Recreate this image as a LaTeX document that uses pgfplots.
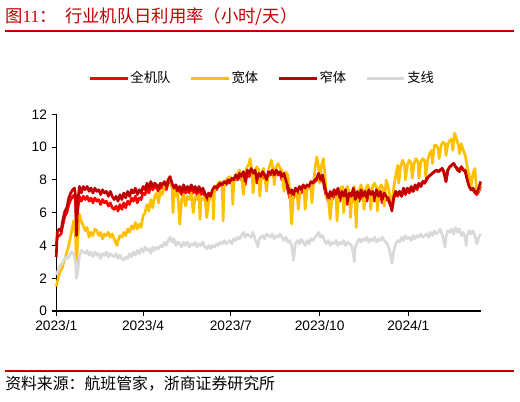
\documentclass[border=0pt]{standalone}
\usepackage{fontspec}
\setmainfont{Liberation Sans}
\newfontfamily\cjk{Noto Sans CJK SC}
\newfontfamily\serif{Liberation Serif}
\usepackage{pgfplots}
\pgfplotsset{compat=1.18}
\definecolor{cA}{RGB}{255,0,0}
\definecolor{cW}{RGB}{255,192,0}
\definecolor{cN}{RGB}{192,0,0}
\definecolor{cG}{RGB}{217,217,217}
\definecolor{tred}{RGB}{192,0,0}
\begin{document}
\begin{tikzpicture}
\path[use as bounding box] (0pt,0pt) rectangle (390pt,301.5pt);
% title
\node[anchor=west, inner sep=0pt, text=tred, font=\fontsize{13}{15}\selectfont] at (3.75pt,288.75pt)
  {{\cjk 图}{\serif 11}{\cjk ：}\hspace{6.5pt}{\cjk 行业机队日利用率（小时/天）}};
\draw[tred, line width=0.8pt] (3.75pt,278.25pt) -- (385.5pt,278.25pt);
\draw[tred, line width=0.8pt] (3.75pt,23.25pt) -- (385.5pt,23.25pt);
\node[anchor=west, inner sep=0pt, font=\fontsize{11.9}{14}\selectfont\cjk] at (3.75pt,13.5pt)
  {资料来源：航班管家，浙商证券研究所};
\begin{axis}[
  at={(42.2pt,68.25pt)}, anchor=south west,
  scale only axis, width=318.3pt, height=147.5pt,
  xmin=0, xmax=440, ymin=0, ymax=12,
  axis lines=left,
  axis line style={-, black, line width=0.8pt},
  tick align=outside, major tick length=3.4pt,
  tick style={black, line width=0.8pt},
  ytick={0,2,4,6,8,10,12},
  xtick={0,90,181,273,365},
  xticklabels={2023/1,2023/4,2023/7,2023/10,2024/1},
  ticklabel style={font=\fontsize{10.3}{12}\selectfont},
  /pgf/number format/assume math mode=true,
  clip=false,
  legend columns=4,
  legend style={draw=none, fill=none, at={(axis description cs:0.4847,1.184)}, anchor=center,
    font=\fontsize{10}{12}\selectfont\cjk,
    /tikz/every even column/.append style={column sep=13.5pt},
    nodes={inner sep=1pt}},
  legend image code/.code={\draw[#1, line width=2.4pt] (0pt,0pt) -- (28pt,0pt);},
  every axis plot/.append style={line width=2pt, line join=round},
]
\addplot[cA] coordinates {
(0,4.0)(1,4.5)(3,4.6)(5,4.7)(7,5.3)(9,5.8)(11,6.0)(13,6.5)(15,6.8)(17,7.0)(19,7.1)(20,6.6)(21,4.4)(22,6.0)(24,7.0)(26,6.7)(28,7.0)(30,6.8)(32,7.0)(34,6.7)(36,6.9)(38,6.6)(40,6.9)(42,6.7)(44,6.8)(46,6.5)(48,6.8)(50,6.6)(52,6.7)(54,6.4)(56,6.6)(58,6.3)(60,6.2)(62,6.4)(64,6.1)(66,6.5)(68,6.2)(70,6.6)(72,6.3)(74,6.7)(76,6.5)(78,6.9)(80,6.7)(82,7.0)(84,6.6)(86,6.9)(88,6.8)(90,7.2)(92,7.1)(94,7.5)(96,7.2)(98,7.6)(100,7.4)
(102,7.6)(104,7.5)(106,7.3)(108,7.6)(110,7.5)(112,7.7)(114,7.4)(116,7.8)(118,8.0)(120,7.6)(122,7.3)(124,7.5)(126,7.2)(128,7.4)(130,7.1)(132,7.5)(134,7.2)(136,7.4)(138,7.2)(140,7.5)(142,7.2)(144,7.4)(146,7.1)(148,7.4)(150,7.1)(152,7.3)(154,7.0)(156,6.7)(158,7.0)(160,6.9)(162,7.3)(164,7.5)(166,7.4)(168,7.6)(170,7.7)(172,7.6)(174,7.8)(176,7.7)(178,7.9)(180,7.8)(182,8.0)(184,7.9)(186,8.2)(188,8.0)(190,8.3)(192,8.0)(194,8.3)(196,7.7)(198,8.5)(200,8.2)
(202,8.5)(204,8.2)(206,8.4)(208,7.8)(210,8.2)(212,8.0)(214,8.3)(216,8.1)(218,7.8)(220,8.3)(222,8.3)(224,8.5)(226,8.1)(228,8.5)(230,8.3)(232,8.4)(234,8.0)(236,8.2)(238,7.8)(240,7.4)(242,6.9)(244,7.2)(246,6.9)(248,7.3)(250,7.1)(252,7.4)(254,7.2)(256,7.5)(258,7.3)(260,7.6)(262,7.5)(264,7.8)(266,7.7)(268,7.9)(270,8.0)(272,8.3)(274,7.9)(276,8.2)(278,7.5)(280,7.0)(282,6.7)(284,7.1)(286,6.8)(288,7.2)(290,6.9)(292,7.3)(294,6.7)(296,7.1)(298,6.8)(300,7.2)
(302,6.5)(304,7.0)(306,6.8)(308,7.3)(310,6.6)(312,7.1)(314,6.7)(316,7.2)(318,6.8)(320,7.1)(322,6.7)(324,7.2)(326,6.9)(328,7.1)(330,6.7)(332,7.2)(334,6.8)(336,7.1)(338,6.6)(340,7.0)(342,6.8)(344,6.8)(346,6.5)(348,6.3)(350,6.9)(352,7.2)(354,7.0)(356,7.3)(358,7.0)(360,7.4)(362,7.1)(364,7.4)(366,7.2)(368,7.5)(370,7.3)(372,7.6)(374,7.4)(376,7.7)(378,7.6)(380,7.9)(382,7.8)(384,8.0)(386,8.2)(388,8.3)(390,8.4)(392,8.5)(394,8.6)(396,8.5)(398,8.6)(400,8.7)
(402,8.4)(404,7.9)(406,8.6)(408,8.8)(410,8.9)(412,9.0)(414,8.8)(416,8.7)(418,8.6)(420,8.8)(422,8.6)(424,8.6)(426,8.1)(428,7.7)(430,7.4)(432,7.4)(434,7.2)(436,7.1)(438,7.3)(440,7.6)
};
\addlegendentry{全机队}
\addplot[cW] coordinates {
(0,1.5)(2,2.0)(4,2.4)(6,2.6)(8,3.0)(10,3.4)(12,3.8)(14,4.3)(16,4.9)(18,5.5)(20,4.5)(21,2.7)(22,4.0)(24,5.9)(26,5.5)(28,5.2)(30,4.9)(32,5.1)(34,4.5)(36,4.8)(38,4.6)(40,5.0)(42,4.9)(44,4.6)(46,4.8)(48,4.4)(50,4.7)(52,4.6)(54,4.8)(56,4.5)(58,4.7)(60,4.4)(62,4.1)(63,4.0)(64,4.3)(66,4.6)(68,4.5)(70,4.8)(72,4.6)(74,5.0)(76,4.8)(78,5.2)(80,5.0)(82,5.4)(84,5.0)(86,5.3)(88,5.1)(90,5.8)(92,6.0)(94,6.5)(96,6.1)(98,6.8)(100,6.3)
(102,7.0)(104,7.2)(106,6.6)(108,7.3)(110,7.1)(112,7.6)(114,7.8)(116,8.0)(118,8.2)(120,7.6)(121,6.0)(122,7.4)(124,7.0)(126,7.2)(128,5.3)(130,6.8)(132,7.1)(134,6.4)(136,7.0)(138,6.8)(140,7.2)(142,6.0)(144,7.0)(146,6.8)(148,7.1)(149,5.6)(150,6.9)(152,6.8)(154,7.0)(156,5.7)(158,6.6)(160,7.1)(162,7.4)(163,5.6)(164,7.3)(166,7.6)(168,7.8)(170,7.9)(172,7.7)(173,5.5)(174,7.6)(176,8.0)(178,8.1)(180,8.2)(182,7.9)(183,6.5)(184,7.8)(186,8.3)(188,8.4)(190,8.6)(192,8.2)(194,7.1)(196,8.5)(198,8.8)(200,9.0)
(201,9.3)(203,8.4)(204,7.2)(206,8.5)(208,8.8)(210,8.6)(211,7.0)(213,8.4)(215,8.7)(218,7.3)(220,8.6)(223,9.2)(225,8.6)(226,7.7)(228,8.8)(230,9.0)(232,8.7)(234,8.6)(236,7.3)(238,8.5)(240,8.3)(242,7.4)(244,5.3)(246,7.2)(248,7.3)(250,6.9)(251,6.2)(253,7.4)(255,7.6)(257,7.4)(258,6.2)(260,7.4)(262,7.6)(264,7.8)(265,6.6)(267,8.0)(269,9.0)(270,9.4)(272,8.8)(273,7.8)(275,8.9)(277,9.3)(279,8.0)(280,7.0)(282,6.8)(284,5.6)(286,7.0)(288,7.4)(290,7.2)(291,5.5)(293,7.3)(295,7.5)(297,7.6)(298,6.0)(300,7.4)
(302,7.6)(304,7.2)(305,5.7)(307,7.3)(309,7.6)(311,5.1)(312,6.6)(314,7.4)(316,7.7)(318,7.3)(319,6.2)(321,7.5)(323,7.7)(325,7.4)(326,6.2)(328,7.6)(330,7.8)(332,7.5)(333,6.1)(335,7.5)(337,7.7)(339,7.4)(340,6.4)(342,8.0)(344,7.6)(346,7.0)(348,6.3)(350,7.6)(352,8.3)(354,8.9)(355,7.8)(357,8.8)(359,9.2)(361,8.9)(362,8.0)(364,8.9)(366,9.2)(368,9.0)(369,8.1)(371,9.0)(373,9.3)(375,9.1)(376,8.1)(378,9.1)(380,9.3)(382,9.2)(383,8.2)(385,9.2)(387,9.6)(389,9.8)(390,9.0)(392,10.1)(394,10.1)(396,9.9)(397,9.3)(399,10.1)(401,10.3)
(403,10.2)(404,9.5)(406,10.2)(408,10.4)(410,10.5)(411,9.8)(413,10.85)(415,10.5)(417,10.1)(418,9.6)(420,10.2)(422,9.8)(424,9.5)(426,8.8)(428,8.3)(430,7.6)(432,8.4)(434,8.7)(436,7.2)(438,7.4)(440,7.8)
};
\addlegendentry{宽体}
\addplot[cN] coordinates {
(0,3.3)(1,4.8)(3,5.0)(5,4.9)(7,5.6)(9,6.1)(11,6.3)(13,6.9)(15,7.2)(17,7.4)(19,7.5)(20,7.0)(21,4.6)(22,6.5)(24,7.6)(26,7.2)(28,7.6)(30,7.4)(32,7.6)(34,7.3)(36,7.5)(38,7.2)(40,7.5)(42,7.3)(44,7.4)(46,7.1)(48,7.4)(50,7.2)(52,7.3)(54,7.0)(56,7.3)(58,7.0)(60,6.8)(62,7.0)(64,6.7)(66,7.1)(68,6.8)(70,7.2)(72,6.9)(74,7.3)(76,7.0)(78,7.4)(80,7.2)(82,7.5)(84,7.1)(86,7.4)(88,7.2)(90,7.6)(92,7.4)(94,7.8)(96,7.5)(98,7.9)(100,7.6)
(102,7.8)(104,7.7)(106,7.5)(108,7.8)(110,7.7)(112,7.9)(114,7.6)(116,8.0)(118,8.2)(120,7.8)(122,7.5)(124,7.7)(126,7.4)(128,7.6)(130,7.3)(132,7.7)(134,7.4)(136,7.6)(138,7.4)(140,7.7)(142,7.4)(144,7.6)(146,7.3)(148,7.6)(150,7.3)(152,7.5)(154,7.2)(156,6.9)(158,7.2)(160,7.0)(162,7.4)(164,7.6)(166,7.5)(168,7.7)(170,7.8)(172,7.7)(174,7.9)(176,7.8)(178,8.0)(180,7.9)(182,8.1)(184,8.0)(186,8.3)(188,8.1)(190,8.4)(192,8.2)(194,8.5)(196,7.9)(198,8.6)(200,8.4)
(202,8.7)(204,8.4)(206,8.6)(208,8.0)(210,8.4)(212,8.2)(214,8.5)(216,8.3)(218,8.0)(220,8.5)(222,8.4)(224,8.6)(226,8.3)(228,8.6)(230,8.4)(232,8.5)(234,8.2)(236,8.4)(238,8.0)(240,7.6)(242,7.2)(244,7.4)(246,7.1)(248,7.5)(250,7.3)(252,7.6)(254,7.4)(256,7.7)(258,7.5)(260,7.7)(262,7.6)(264,7.9)(266,7.8)(268,8.0)(270,8.1)(272,8.4)(274,8.0)(276,8.3)(278,7.7)(280,7.2)(282,6.9)(284,7.3)(286,7.0)(288,7.4)(290,7.1)(292,7.5)(294,6.9)(296,7.3)(298,7.0)(300,7.4)
(302,6.7)(304,7.2)(306,7.0)(308,7.5)(310,6.8)(312,7.3)(314,6.9)(316,7.4)(318,7.0)(320,7.3)(322,6.9)(324,7.4)(326,7.1)(328,7.3)(330,6.9)(332,7.4)(334,7.0)(336,7.3)(338,6.8)(340,7.2)(342,7.0)(344,6.9)(346,6.6)(348,6.1)(350,7.0)(352,7.3)(354,7.1)(356,7.3)(358,7.0)(360,7.5)(362,7.2)(364,7.5)(366,7.3)(368,7.6)(370,7.3)(372,7.7)(374,7.5)(376,7.8)(378,7.6)(380,7.9)(382,7.8)(384,8.1)(386,8.2)(388,8.3)(390,8.4)(392,8.5)(394,8.6)(396,8.5)(398,8.6)(400,8.7)
(402,8.5)(404,7.9)(406,8.6)(408,8.8)(410,8.9)(412,9.0)(414,8.8)(416,8.6)(418,8.5)(420,8.8)(422,8.6)(424,8.5)(426,8.0)(428,7.6)(430,7.4)(432,7.5)(434,7.3)(436,7.2)(438,7.5)(440,7.9)
};
\addlegendentry{窄体}
\addplot[cG] coordinates {
(0,2.2)(2,2.5)(4,2.8)(6,2.9)(8,3.1)(10,3.3)(12,3.2)(14,3.4)(16,3.6)(18,3.5)(20,3.0)(21,2.0)(22,2.3)(24,3.3)(26,3.7)(28,3.6)(30,3.5)(32,3.7)(34,3.4)(36,3.6)(38,3.3)(40,3.6)(42,3.4)(44,3.5)(46,3.2)(48,3.5)(50,3.4)(52,3.6)(54,3.3)(56,3.5)(58,3.4)(60,3.3)(62,3.5)(64,3.2)(66,3.4)(68,3.2)(70,3.1)(72,3.3)(74,3.2)(76,3.5)(78,3.3)(80,3.6)(82,3.4)(84,3.7)(86,3.5)(88,3.8)(90,3.6)(92,3.9)(94,3.7)(96,3.8)(98,3.5)(100,3.9)
(102,3.7)(104,3.9)(106,3.8)(108,4.0)(110,3.9)(112,4.2)(114,4.0)(116,4.3)(118,4.5)(120,4.2)(122,4.4)(124,4.0)(126,4.2)(128,4.1)(130,3.9)(132,4.2)(134,4.0)(136,4.2)(138,3.9)(140,4.1)(142,4.0)(144,4.2)(146,3.9)(148,4.1)(150,4.0)(152,4.2)(154,3.9)(156,3.8)(158,4.0)(160,3.8)(162,4.0)(164,3.9)(166,4.1)(168,4.0)(170,4.2)(172,4.1)(174,4.3)(176,4.1)(178,4.2)(180,4.3)(182,4.1)(184,4.4)(186,4.3)(188,4.5)(190,4.4)(192,4.6)(194,4.8)(196,4.5)(198,4.7)(200,4.6)
(202,4.5)(204,4.8)(206,4.4)(208,4.1)(209,3.9)(210,4.3)(212,4.5)(214,4.6)(216,4.4)(218,4.7)(220,4.6)(222,4.5)(224,4.7)(226,4.4)(228,4.6)(230,4.5)(232,4.7)(234,4.5)(236,4.3)(238,4.5)(240,4.2)(242,4.3)(244,4.0)(246,3.1)(248,4.1)(250,4.3)(252,4.1)(254,4.4)(256,4.2)(258,4.0)(260,4.3)(262,4.1)(264,4.4)(266,4.3)(268,4.5)(270,4.6)(272,4.8)(274,4.5)(276,4.6)(278,4.3)(280,4.1)(282,4.3)(284,4.0)(286,4.2)(288,4.1)(290,4.3)(292,4.0)(294,4.2)(296,4.1)(298,4.3)(300,4.0)
(302,4.2)(304,4.1)(306,4.0)(308,3.5)(309,3.0)(310,3.9)(312,4.2)(314,4.4)(316,4.2)(318,4.4)(320,4.3)(322,4.5)(324,4.2)(326,4.4)(328,4.3)(330,4.5)(332,4.2)(334,4.4)(336,4.3)(338,4.5)(340,4.3)(342,4.2)(344,4.0)(346,3.6)(348,2.9)(350,3.7)(352,4.1)(354,4.3)(356,4.2)(358,4.5)(360,4.3)(362,4.6)(364,4.4)(366,4.5)(368,4.3)(370,4.6)(372,4.4)(374,4.6)(376,4.5)(378,4.7)(380,4.5)(382,4.6)(384,4.7)(386,4.5)(388,4.8)(390,4.6)(392,4.9)(394,4.7)(396,4.8)(398,5.0)(400,4.7)
(402,4.2)(403,3.9)(404,4.5)(406,4.9)(408,4.8)(410,5.0)(412,4.7)(414,5.1)(416,4.8)(418,5.0)(420,4.6)(422,4.8)(424,4.4)(425,4.0)(426,4.6)(428,4.9)(430,4.7)(432,4.9)(434,4.6)(436,4.1)(438,4.5)(440,4.7)
};
\addlegendentry{支线}
\end{axis}
\end{tikzpicture}
\end{document}
